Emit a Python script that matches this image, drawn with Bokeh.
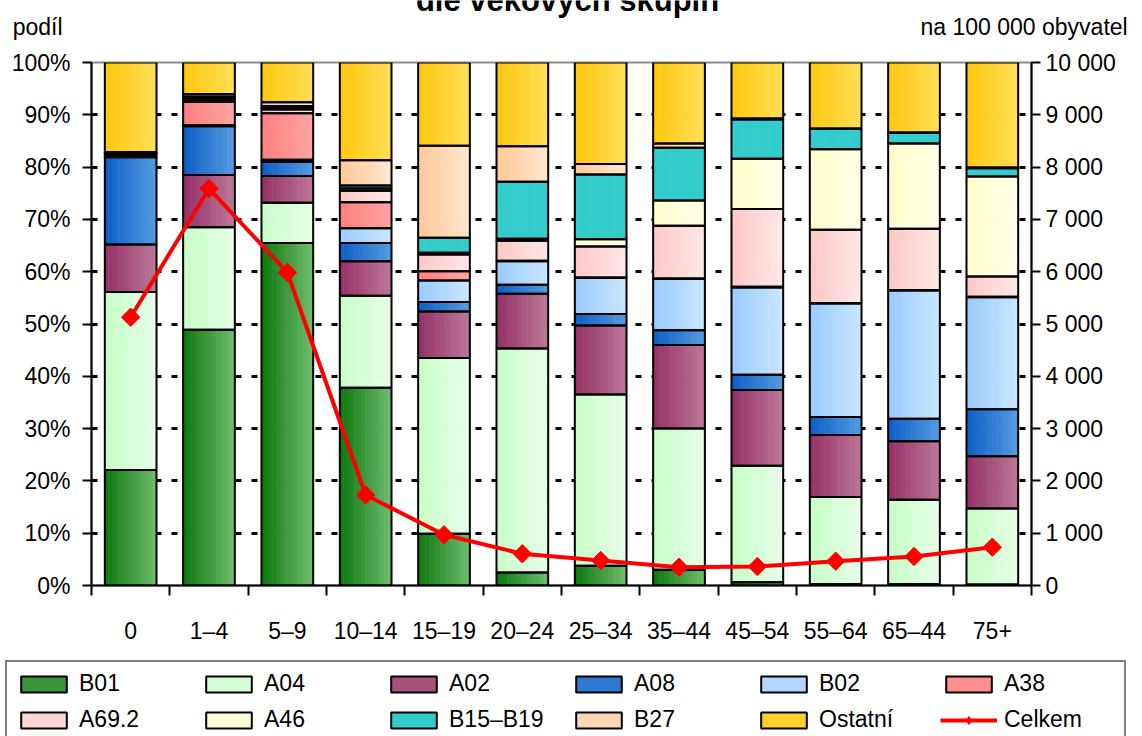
import numpy as np
from bokeh.plotting import figure
from bokeh.layouts import column
from bokeh.models import (ColumnDataSource, Range1d, LinearAxis, FixedTicker,
                          NumeralTickFormatter, Legend, LegendItem, Label)
from bokeh.transform import dodge
from bokeh.embed import file_html
from bokeh.resources import INLINE

# ---------------- data ----------------
categories = ["0", "1–4", "5–9", "10–14", "15–19", "20–24", "25–34",
              "35–44", "45–54", "55–64", "65–44", "75+"]
series_names = ["B01", "A04", "A02", "A08", "B02", "A38", "A69.2", "A46",
                "B15–B19", "B27", "Ostatní"]

B01 = [22.1, 48.9, 65.5, 37.8, 9.9, 2.5, 3.8, 3.0, 0.6, 0.3, 0.3, 0.2]
A04 = [34.0, 19.6, 7.7, 17.6, 33.6, 42.8, 32.7, 27.0, 22.3, 16.6, 16.1, 14.5]
A02 = [9.1, 10.0, 5.1, 6.6, 8.9, 10.5, 13.2, 16.0, 14.5, 11.9, 11.2, 10.0]
A08 = [16.7, 9.3, 2.7, 3.5, 1.8, 1.7, 2.2, 2.8, 2.9, 3.4, 4.3, 9.0]
B02 = [0.2, 0.2, 0.4, 2.8, 4.1, 4.5, 6.9, 9.8, 16.7, 21.7, 24.5, 21.4]
A38 = [0.2, 4.5, 8.9, 5.0, 1.8, 0.1, 0.1, 0.1, 0.1, 0.1, 0.1, 0.1]
A69_2 = [0.2, 0.4, 0.7, 2.2, 3.2, 3.8, 5.9, 10.1, 14.9, 14.0, 11.7, 3.9]
A46 = [0.1, 0.2, 0.3, 0.4, 0.3, 0.4, 1.4, 4.8, 9.6, 15.4, 16.3, 19.1]
B15_B19 = [0.2, 0.4, 0.4, 0.6, 2.9, 10.9, 12.4, 10.1, 7.5, 3.9, 2.0, 1.6]
B27 = [0.1, 0.5, 0.7, 4.8, 17.6, 6.8, 2.0, 0.8, 0.2, 0.1, 0.1, 0.1]
Ostatni = [17.1, 6.0, 7.6, 18.7, 15.9, 16.0, 19.4, 15.5, 10.7, 12.6, 13.4, 20.1]

celkem = [5130, 7590, 5985, 1730, 970, 606, 478, 350, 363, 465, 555, 733]

left_ticks = [0, 10, 20, 30, 40, 50, 60, 70, 80, 90, 100]
right_ticks = [0, 1000, 2000, 3000, 4000, 5000, 6000, 7000, 8000, 9000, 10000]

title_text = "dle věkových skupin"
left_title = "podíl"
right_title = "na 100 000 obyvatel"

# gradient colours (left edge, right edge) for each series
grad_colors = [
    ("#0f7a0f", "#6cba6c"),
    ("#c8ffc8", "#e6fde6"),
    ("#953366", "#ba7596"),
    ("#0f5fc8", "#5299de"),
    ("#99ccff", "#c9e5ff"),
    ("#ff8080", "#ffa2a2"),
    ("#ffc8c8", "#ffe6e6"),
    ("#ffffcc", "#fffee6"),
    ("#33cccc", "#33cccc"),
    ("#ffc998", "#ffe6cf"),
    ("#ffc80f", "#ffde55"),
]

series_values = [B01, A04, A02, A08, B02, A38, A69_2, A46, B15_B19, B27, Ostatni]

# ---------------- helpers ----------------
def hex2rgb(h):
    h = h.lstrip("#")
    return tuple(int(h[i:i + 2], 16) for i in (0, 2, 4))

def mix(c1, c2, t):
    a, b = hex2rgb(c1), hex2rgb(c2)
    return "#%02x%02x%02x" % tuple(int(round(a[i] + (b[i] - a[i]) * t)) for i in range(3))

FONT = "Liberation Sans"
FS = "23px"
FRAME_W = 940
BL, BR = 91, 111
PAGE_W = 1142

def bare_axis(ax):
    ax.major_tick_out = 0
    ax.major_tick_in = 0
    ax.minor_tick_out = 0
    ax.minor_tick_in = 0
    ax.axis_line_color = None
    ax.major_tick_line_color = None
    ax.minor_tick_line_color = None
    ax.major_label_text_font = FONT
    ax.major_label_text_font_size = FS
    ax.major_label_text_color = "black"

# ---------------- header (titles) ----------------
HEAD_H = 48
head = figure(frame_width=FRAME_W, height=HEAD_H, x_range=Range1d(0, FRAME_W),
              y_range=Range1d(HEAD_H, 0), output_backend="svg",
              toolbar_location=None, min_border_left=BL, min_border_right=BR,
              min_border_top=0, min_border_bottom=0,
              x_axis_location=None, y_axis_location=None)
head.grid.visible = False
head.outline_line_color = None
head.background_fill_color = "white"

hl = LinearAxis(ticker=FixedTicker(ticks=[26]),
                major_label_overrides={26: left_title})
bare_axis(hl)
hl.major_label_standoff = 29
head.add_layout(hl, "left")

hr = LinearAxis(ticker=FixedTicker(ticks=[26]),
                major_label_overrides={26: right_title})
bare_axis(hr)
hr.major_label_standoff = -111
head.add_layout(hr, "right")

head.add_layout(Label(x=567 - BL, y=0, text=title_text, text_font=FONT,
                      text_font_size="31px", text_font_style="bold",
                      text_baseline="alphabetic", text_align="center",
                      text_color="black"))

# ---------------- main chart ----------------
keys = ["s%d" % i for i in range(len(series_names))]
data = {"x": [i + 0.5 for i in range(len(categories))],
        "celkem": celkem}
for k, vals in zip(keys, series_values):
    data[k] = [v / 100.0 for v in vals]
src = ColumnDataSource(data)

p = figure(frame_width=FRAME_W, frame_height=523,
           x_range=Range1d(0, len(categories)), y_range=Range1d(0, 1),
           output_backend="svg", toolbar_location=None,
           min_border_left=BL, min_border_right=BR, min_border_top=14,
           min_border_bottom=70)
p.background_fill_color = "white"
p.border_fill_color = "white"
p.outline_line_color = "#8c8c8c"
p.outline_line_width = 2

p.extra_y_ranges = {"y2": Range1d(0, 10000)}

W = 0.66
N = 14
for s in range(N):
    off = -W / 2 + W * (s + 0.5) / N
    t = s / (N - 1)
    cols = [mix(c1, c2, t) for (c1, c2) in grad_colors]
    p.vbar_stack(keys, x=dodge("x", off), width=W / N * 1.15, source=src,
                 fill_color=cols, line_color=None)

p.vbar_stack(keys, x="x", width=W, source=src, fill_color=None,
             line_color="black", line_width=2)

p.line("x", "celkem", source=src, y_range_name="y2",
       line_color="#ff0000", line_width=4)
p.scatter("x", "celkem", source=src, y_range_name="y2",
          marker="square", angle=np.pi / 4, size=13,
          fill_color="#ff0000", line_color="#ff0000")

xax = p.xaxis[0]
centers = [i + 0.5 for i in range(len(categories))]
bounds = list(range(len(categories) + 1))
xax.ticker = FixedTicker(ticks=centers, minor_ticks=bounds)
xax.major_label_overrides = {c: lab for c, lab in zip(centers, categories)}
xax.major_tick_out = 0
xax.major_tick_in = 0
xax.minor_tick_out = 10
xax.minor_tick_in = 0
xax.minor_tick_line_color = "black"
xax.minor_tick_line_width = 2
xax.axis_line_width = 2
xax.axis_line_color = "black"
xax.major_label_text_font = FONT
xax.major_label_text_font_size = FS
xax.major_label_text_color = "black"
xax.major_label_standoff = 22

yax = p.yaxis[0]
yax.ticker = FixedTicker(ticks=[v / 100.0 for v in left_ticks])
yax.formatter = NumeralTickFormatter(format="0%")
yax.major_tick_out = 9
yax.major_tick_in = 0
yax.minor_tick_out = 0
yax.minor_tick_in = 0
yax.major_tick_line_width = 2
yax.axis_line_width = 2
yax.axis_line_color = "black"
yax.major_label_text_font = FONT
yax.major_label_text_font_size = FS
yax.major_label_text_color = "black"
yax.major_label_standoff = 12

ax2 = LinearAxis(y_range_name="y2", ticker=FixedTicker(ticks=right_ticks))
ax2.major_label_overrides = {v: ("{:,}".format(v)).replace(",", " ") for v in right_ticks}
ax2.major_tick_out = 9
ax2.major_tick_in = 0
ax2.minor_tick_out = 0
ax2.minor_tick_in = 0
ax2.major_tick_line_width = 2
ax2.axis_line_width = 2
ax2.axis_line_color = "black"
ax2.major_label_text_font = FONT
ax2.major_label_text_font_size = FS
ax2.major_label_text_color = "black"
ax2.major_label_standoff = 5
p.add_layout(ax2, "right")

p.xgrid.visible = False
p.ygrid.ticker = FixedTicker(ticks=[v / 100.0 for v in left_ticks])
p.ygrid.grid_line_color = "black"
p.ygrid.grid_line_width = 3
p.ygrid.grid_line_dash = "6 10"

# ---------------- legend strip (own frame, not aligned) ----------------
LEG_H = 100
leg = figure(frame_width=PAGE_W, frame_height=LEG_H, x_range=Range1d(0, 1),
             y_range=Range1d(0, 1), output_backend="svg",
             toolbar_location=None, min_border=0,
             x_axis_location=None, y_axis_location=None)
leg.frame_align = False
leg.grid.visible = False
leg.outline_line_color = None

items = []
for name, (c1, c2) in zip(series_names, grad_colors):
    r = leg.vbar(x=[-5], top=[0], bottom=[0], width=0.1,
                 fill_color=mix(c1, c2, 0.45), line_color="black", line_width=2)
    items.append(LegendItem(label=name, renderers=[r]))
lr = leg.line(x=[-5, -4], y=[0, 0], line_color="#ff0000", line_width=4)
sr = leg.scatter(x=[-5], y=[0], marker="diamond", size=20,
                 fill_color="#ff0000", line_color="#ff0000")
items.append(LegendItem(label="Celkem", renderers=[lr, sr]))

legend = Legend(items=items, orientation="horizontal", ncols=6,
                location=(5, 12), glyph_width=57, glyph_height=20,
                label_standoff=7, label_width=112, label_height=27,
                spacing=9, padding=8, margin=0,
                border_line_color="black", border_line_width=2,
                label_text_font=FONT, label_text_font_size=FS,
                label_text_color="black", background_fill_alpha=1)
leg.add_layout(legend)

layout = column(head, p, leg, spacing=0)
open("out.html", "w").write(file_html(layout, INLINE))
